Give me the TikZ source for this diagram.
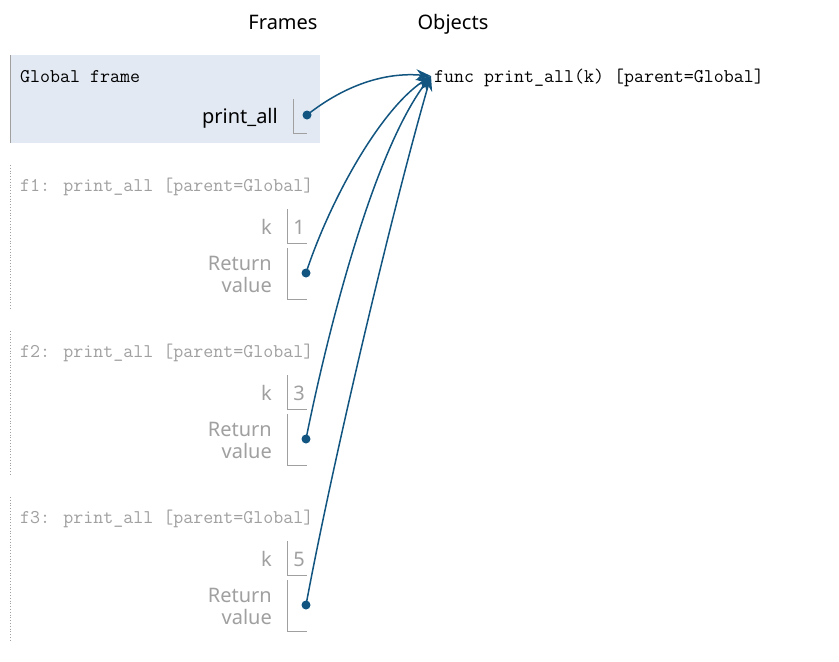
\documentclass[tikz,border=0pt]{standalone}
\usepackage{fontspec}
\setmainfont{Noto Sans}
\usetikzlibrary{arrows.meta}

\definecolor{ptrblue}{RGB}{17,85,128}
\definecolor{framebg}{RGB}{226,233,243}
\definecolor{fgray}{RGB}{160,160,160}

\tikzset{
  lbl/.style={font=\fontsize{20}{20}\selectfont, inner sep=0pt},
  code/.style={font=\ttfamily\fontsize{19.4}{19.4}\selectfont, inner sep=0pt},
  ptr/.style={ptrblue, line width=1.5pt, -{Stealth[length=15pt,width=11pt]}},
  dot/.style={circle, fill=ptrblue, inner sep=0pt, minimum size=9pt},
  box/.style={fgray, line width=1pt}
}

\begin{document}
\begin{tikzpicture}[x=1pt,y=-1pt]
  \useasboundingbox[fill=white] (0,0) rectangle (839,662);
  % headings
  \node[lbl, anchor=base] (frames) at (283,29) {Frames};
  \node[lbl, anchor=base] (objects) at (453,29) {Objects};

  % global frame
  \fill[framebg] (10,55) rectangle (320,143);
  \draw[fgray, line width=1pt] (10,55) -- (10,143);
  \node[code, anchor=base west] (gtitle) at (20,82) {Global frame};
  \node[lbl, anchor=base east] (gname) at (278,123) {print\_all};
  \draw[box] (293,99) -- (293,133) -- (307,133);
  \node[dot] (gdot) at (307,115) {};

  % the function object
  \node[code, anchor=base west] (fn) at (434,82) {func print\_all(k) [parent=Global]};
  \coordinate (tip) at (431,76);

  % call frames f1, f2, f3
  \foreach \i/\dy/\k in {1/0/1, 2/166/3, 3/332/5} {
    \begin{scope}[yshift=-\dy pt]
      \draw[fgray, line width=0.8pt, dotted] (10,165) -- (10,308);
      \node[code, anchor=base west, text=fgray] (title\i) at (20,191) {f\i: print\_all [parent=Global]};
      \node[lbl, anchor=base east, text=fgray] (kname\i) at (272,234) {k};
      \draw[box] (287,209) -- (287,243) -- (307,243);
      \node[lbl, anchor=base, text=fgray] (kval\i) at (299,234) {\k};
      \node[lbl, anchor=base east, text=fgray] (ret\i) at (272,270) {Return};
      \node[lbl, anchor=base east, text=fgray] (val\i) at (272,292) {value};
      \draw[box] (287,248) -- (287,299) -- (307,299);
      \node[dot] (dot\i) at (306,273) {};
    \end{scope}
  }

  % pointers
  \draw[ptr] (gdot.center) .. controls (345,85) and (385,72) .. (tip);
  \draw[ptr] (dot1.center) .. controls (330,200) and (380,110) .. (tip);
  \draw[ptr] (dot2.center) .. controls (330,320) and (375,150) .. (tip);
  \draw[ptr] (dot3.center) .. controls (335,450) and (395,200) .. (tip);
\end{tikzpicture}
\end{document}
